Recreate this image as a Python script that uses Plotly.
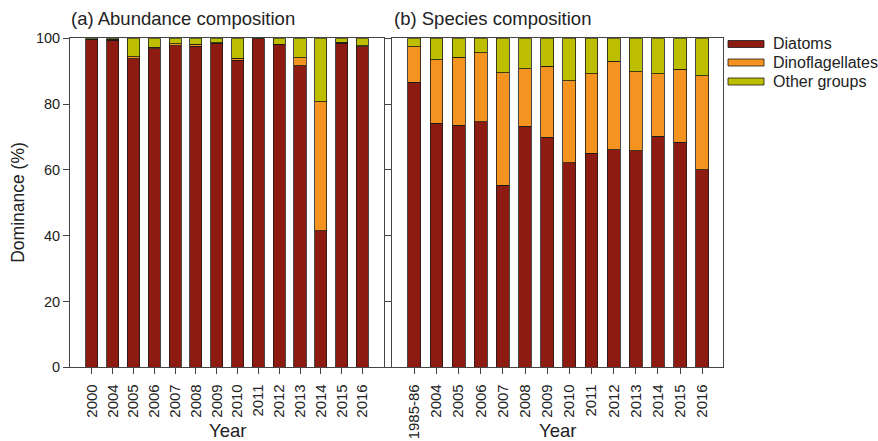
import plotly.graph_objects as go

# ---- data -------------------------------------------------------------
years_a = ["2000", "2004", "2005", "2006", "2007", "2008", "2009",
           "2010", "2011", "2012", "2013", "2014", "2015", "2016"]
diatoms_a = [99.5, 99.4, 93.8, 96.8, 97.8, 97.6, 98.5, 93.4, 99.8, 98.0, 91.6, 41.5, 98.5, 97.4]
dino_a = [0.2, 0.3, 0.6, 0.5, 0.6, 0.6, 0.2, 0.6, 0.1, 0.2, 2.5, 39.2, 0.3, 0.3]
other_a = [0.3, 0.3, 5.6, 2.7, 1.6, 1.8, 1.3, 6.0, 0.1, 1.8, 5.9, 19.3, 1.2, 2.3]

years_b = ["1985-86", "2004", "2005", "2006", "2007", "2008", "2009",
           "2010", "2011", "2012", "2013", "2014", "2015", "2016"]
diatoms_b = [86.6, 74.2, 73.6, 74.6, 55.3, 73.3, 69.9, 62.1, 65.1, 66.1, 65.8, 70.2, 68.4, 60.1]
dino_b = [10.8, 19.3, 20.6, 21.0, 34.2, 17.5, 21.6, 25.0, 24.1, 27.0, 24.1, 19.0, 22.2, 28.5]
other_b = [2.6, 6.5, 5.8, 4.4, 10.5, 9.2, 8.5, 12.9, 10.8, 6.9, 10.1, 10.8, 9.4, 11.4]

groups = ["Diatoms", "Dinoflagellates", "Other groups"]
colors = ["#8E1B12", "#F4931F", "#BDBE00"]

W, H = 878, 441
FONT = "Liberation Sans, Arial, sans-serif"
TXT = "#222222"
AX = "#444444"

# plot-area pixel geometry
ax_a = (70.0, 384.3)
ax_b = (391.7, 723.3)
top_px, bot_px = 38.3, 367.3

fig = go.Figure()

panels = [
    ("x", "y", years_a, [diatoms_a, dino_a, other_a]),
    ("x2", "y2", years_b, [diatoms_b, dino_b, other_b]),
]
for xa, ya, cats, series in panels:
    for name, vals, col in zip(groups, series, colors):
        fig.add_trace(go.Bar(
            x=cats, y=vals, name=name, xaxis=xa, yaxis=ya,
            marker=dict(color=col, line=dict(color="#1a1a1a", width=0.8)),
            showlegend=False,
        ))

ydom = [(H - bot_px) / H, (H - top_px) / H]
common_x = dict(
    type="category", showline=True, mirror=True, linecolor=AX, linewidth=1,
    ticks="outside", ticklen=6, tickcolor=AX, tickwidth=1, tickangle=-90,
    tickfont=dict(family=FONT, size=15, color=TXT), showgrid=False,
    zeroline=False, automargin=False, ticklabelstandoff=4,
)
common_y = dict(
    range=[0, 100], showline=True, mirror=True, linecolor=AX, linewidth=1,
    ticks="outside", ticklen=6, tickcolor=AX, tickwidth=1,
    tickvals=[0, 20, 40, 60, 80, 100], showgrid=False, zeroline=False,
    tickfont=dict(family=FONT, size=14.5, color=TXT), domain=ydom,
    automargin=False,
)

fig.update_layout(
    width=W, height=H,
    margin=dict(l=0, r=0, t=0, b=0, autoexpand=False),
    paper_bgcolor="white", plot_bgcolor="white",
    barmode="stack", bargap=0.42,
    showlegend=False,
    xaxis=dict(common_x, domain=[ax_a[0] / W, ax_a[1] / W], range=[-1.05, 14.05], anchor="y"),
    yaxis=dict(common_y, anchor="x"),
    xaxis2=dict(common_x, domain=[ax_b[0] / W, ax_b[1] / W], range=[-1.02, 13.95], anchor="y2"),
    yaxis2=dict(common_y, anchor="x2", showticklabels=False),
)

def px_x(v):
    return v / W

def px_y(v):
    return 1 - v / H

ann = []
# panel titles
ann.append(dict(text="(a) Abundance composition", x=px_x(69), y=px_y(18), xanchor="left", yanchor="middle",
                font=dict(family=FONT, size=18.5, color=TXT)))
ann.append(dict(text="(b) Species composition", x=px_x(392), y=px_y(18), xanchor="left", yanchor="middle",
                font=dict(family=FONT, size=18.5, color=TXT)))
# axis titles
for (l, r) in (ax_a, ax_b):
    ann.append(dict(text="Year", x=px_x((l + r) / 2), y=px_y(430), xanchor="center", yanchor="middle",
                    font=dict(family=FONT, size=18.5, color=TXT)))
ann.append(dict(text="Dominance (%)", x=px_x(18), y=px_y((top_px + bot_px) / 2), xanchor="center",
                yanchor="middle", textangle=-90, font=dict(family=FONT, size=17.5, color=TXT)))

# legend: wide swatches with labels
shapes = []
rows = [44.0, 62.5, 81.5]
for name, col, yc in zip(groups, colors, rows):
    shapes.append(dict(type="rect", xref="paper", yref="paper",
                       x0=px_x(728), x1=px_x(764), y0=px_y(yc + 3.5), y1=px_y(yc - 3.5),
                       fillcolor=col, line=dict(color="#1a1a1a", width=0.8)))
    ann.append(dict(text=name, x=px_x(771), y=px_y(yc), xanchor="left", yanchor="middle",
                    font=dict(family=FONT, size=16, color=TXT)))

for a in ann:
    a.update(xref="paper", yref="paper", showarrow=False)

fig.update_layout(annotations=ann, shapes=shapes)

fig.write_html("out.html")
